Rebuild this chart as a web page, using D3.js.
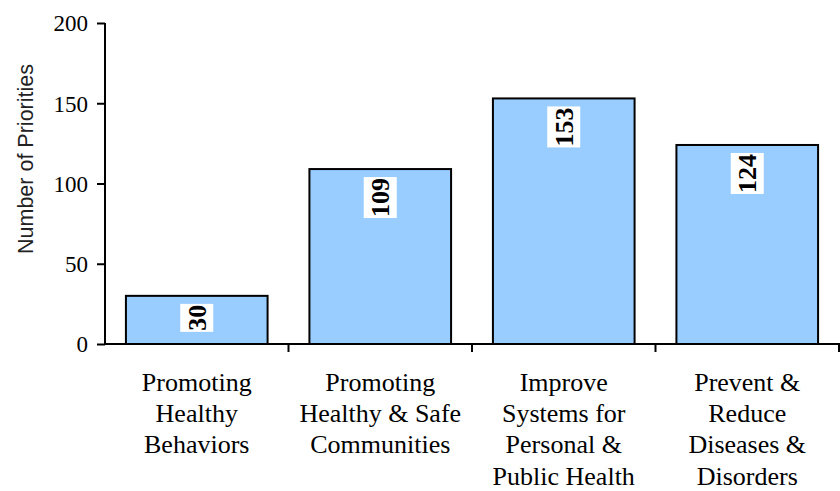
<!DOCTYPE html>
<html>
<head>
<meta charset="utf-8">
<script src="https://cdn.jsdelivr.net/npm/d3@7"></script>
<style>
  html, body { margin: 0; padding: 0; background: #fff; }
  svg { display: block; }
</style>
</head>
<body>
<svg id="chart" width="840" height="491"></svg>
<script>
const categories = [
  ["Promoting", "Healthy", "Behaviors"],
  ["Promoting", "Healthy & Safe", "Communities"],
  ["Improve", "Systems for", "Personal &", "Public Health"],
  ["Prevent &", "Reduce", "Diseases &", "Disorders"]
];
const values = [30, 109, 153, 124];
const yTicks = [0, 50, 100, 150, 200];
const yTitle = "Number of Priorities";

(function () {
const svg = d3.select("#chart");
const mLeft = 105, mRight = 839, mTop = 23, mBottom = 344;

const x = d3.scaleBand()
  .domain(d3.range(values.length))
  .range([mLeft, mRight])
  .paddingInner(0.228)
  .paddingOuter(0.114);
const y = d3.scaleLinear().domain([0, 200]).range([mBottom, mTop]);

// bars
svg.selectAll("rect.bar").data(values).enter().append("rect")
  .attr("class", "bar")
  .attr("x", (d, i) => x(i))
  .attr("y", d => y(d))
  .attr("width", x.bandwidth())
  .attr("height", d => y(0) - y(d))
  .attr("fill", "#99CCFF")
  .attr("stroke", "#000")
  .attr("stroke-width", 2);

// y axis
const yAxis = d3.axisLeft(y).tickValues(yTicks).tickSize(8).tickPadding(9).tickFormat(d3.format("d"));
const gy = svg.append("g").attr("transform", `translate(${mLeft},0)`).call(yAxis);
gy.select(".domain").attr("stroke", "#000").attr("stroke-width", 2).attr("d", `M0,${mTop}V${mBottom}`);
gy.selectAll(".tick line").attr("stroke", "#000").attr("stroke-width", 2);
gy.selectAll(".tick text").attr("font-family", "'Liberation Serif', 'Times New Roman', serif")
  .attr("font-size", 23).attr("fill", "#000").attr("dy", "0.34em");

// x axis line + boundary ticks
const step = x.step();
const boundaries = d3.range(values.length + 1).map(i => mLeft + i * step);
svg.append("line").attr("x1", mLeft).attr("x2", mRight + 1).attr("y1", mBottom).attr("y2", mBottom)
  .attr("stroke", "#000").attr("stroke-width", 2);
svg.selectAll("line.xt").data(boundaries.slice(1)).enter().append("line")
  .attr("class", "xt")
  .attr("x1", d => d).attr("x2", d => d)
  .attr("y1", mBottom).attr("y2", mBottom + 8)
  .attr("stroke", "#000").attr("stroke-width", 2);

// category labels
const catG = svg.selectAll("text.cat").data(categories).enter().append("text")
  .attr("class", "cat")
  .attr("text-anchor", "middle")
  .attr("font-family", "'Liberation Serif', 'Times New Roman', serif")
  .attr("font-size", 26)
  .attr("fill", "#000");
catG.each(function(lines, i) {
  const t = d3.select(this);
  lines.forEach((ln, j) => {
    t.append("tspan")
      .attr("x", x(i) + x.bandwidth() / 2)
      .attr("y", 391 + j * 31.2)
      .text(ln);
  });
});

// y title
svg.append("text")
  .attr("transform", `translate(33,159) rotate(-90)`)
  .attr("text-anchor", "middle")
  .attr("font-family", "'Liberation Sans', Arial, sans-serif")
  .attr("font-size", 21.5)
  .attr("fill", "#222")
  .text(yTitle);

// value labels
values.forEach((v, i) => {
  const cx = x(i) + x.bandwidth() / 2;
  const g = svg.append("g").attr("transform", `translate(${cx},${y(v) + 8}) rotate(-90)`);
  const rect = g.append("rect").attr("fill", "#fff");
  const t = g.append("text")
    .attr("text-anchor", "end")
    .attr("x", -1)
    .attr("y", 0)
    .attr("dy", "0.34em")
    .attr("font-family", "'Liberation Serif', 'Times New Roman', serif")
    .attr("font-weight", "bold")
    .attr("font-size", 26)
    .attr("fill", "#000")
    .text(v);
  const len = t.node().getComputedTextLength();
  rect.attr("x", -len - 2).attr("y", -16.5).attr("width", len + 2).attr("height", 33);
});
})();
</script>
</body>
</html>
